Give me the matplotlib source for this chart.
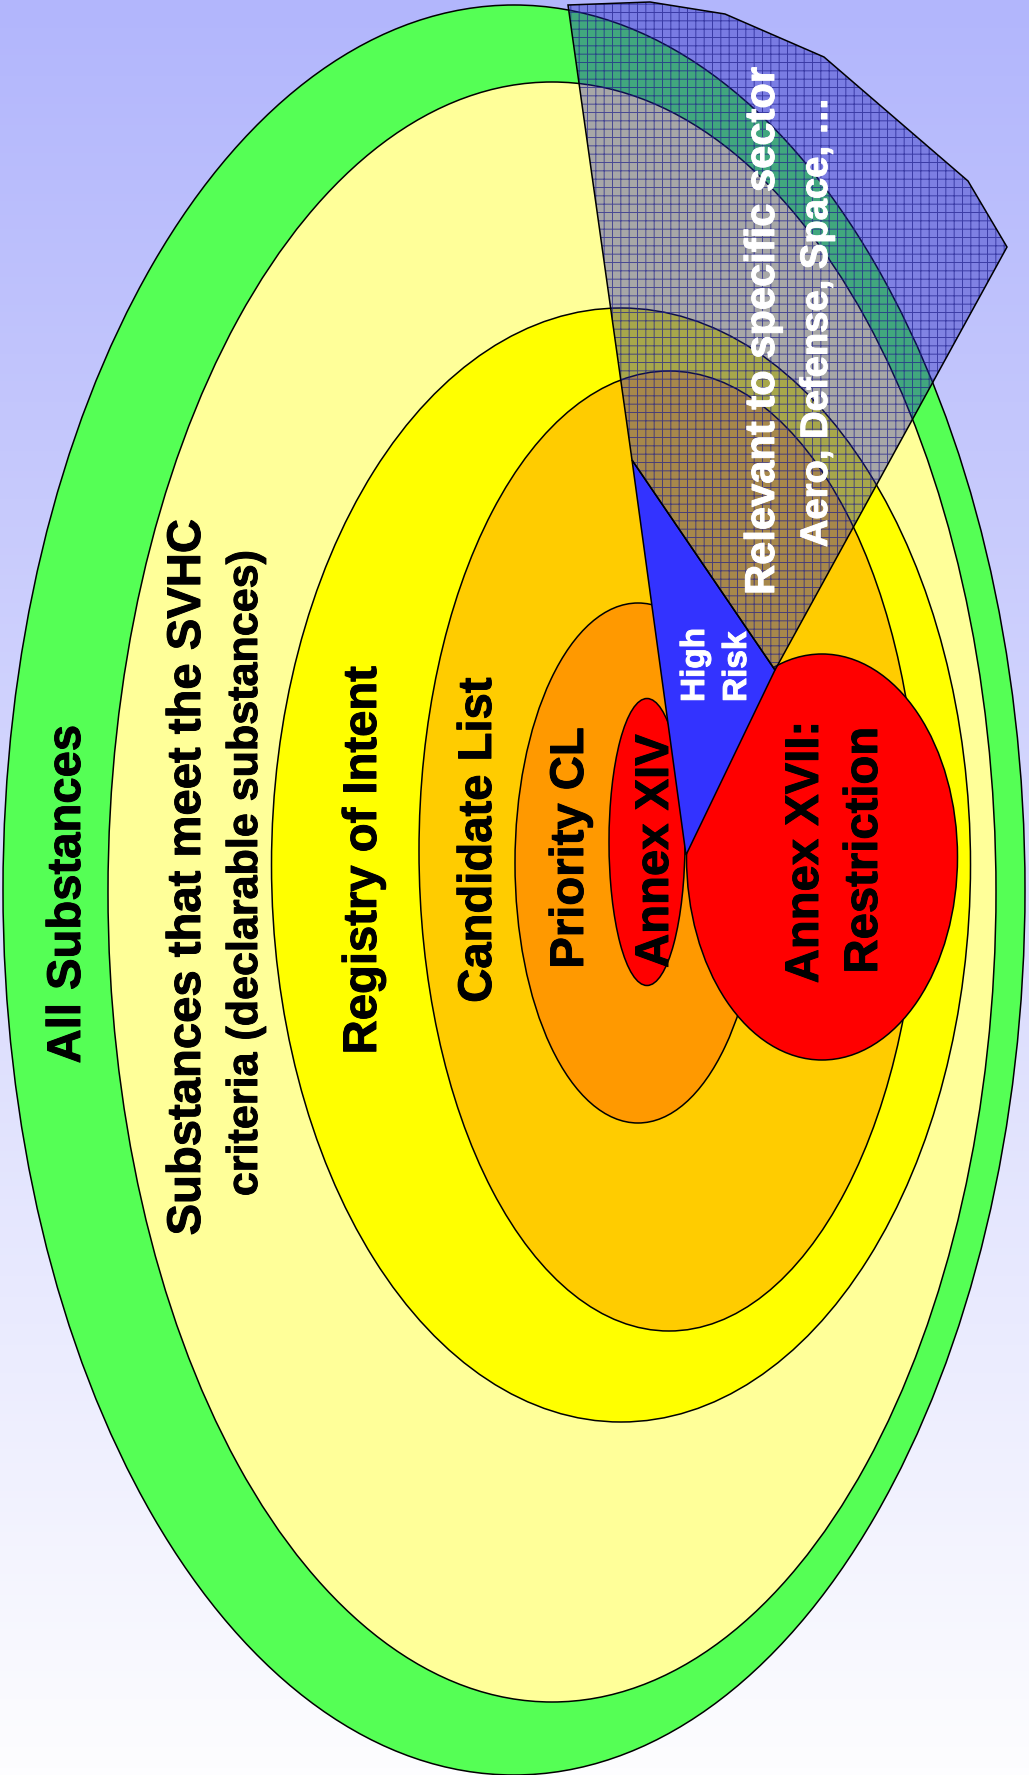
import numpy as np
import matplotlib
matplotlib.use("Agg")
import matplotlib.pyplot as plt
import matplotlib.patheffects as pe
from matplotlib.patches import Ellipse, Polygon
from matplotlib.colors import LinearSegmentedColormap

plt.rcParams['font.family'] = ['Liberation Sans', 'DejaVu Sans']
plt.rcParams['hatch.linewidth'] = 0.7

W, H = 1029, 1775

# ---- data: nested sets (outer -> inner) ----
set_labels = ["All Substances", "Substances that meet the SVHC", "Registry of Intent",
              "Candidate List", "Priority CL", "Annex XIV", "Annex XVII:\nRestriction"]
set_colors = ["#55ff55", "#ffff99", "#ffff00", "#ffcc00", "#ff9900", "#ff0000", "#ff0000"]
# ellipse geometry (pixel space): centre x, centre y, width, height
ell_cx = [514, 552, 621, 669, 638, 647, 822]
ell_cy = [890, 892, 865, 851, 863, 842, 857]
ell_w = [1022, 888, 699, 500, 246, 76, 271]
ell_h = [1770, 1620, 1114, 960, 520, 287, 406]

high_risk_label = ["High", "Risk"]
tri_x = [632, 775, 686]
tri_y = [460, 670, 855]

sector_labels = ["Relevant to specific sector", "Aero, Defense, Space, \u2026"]
sec_x = [568, 650, 725, 824, 968, 1007, 775, 632]
sec_y = [5, 2, 14, 57, 181, 247, 670, 460]

fig = plt.figure(figsize=(W / 100, H / 100), dpi=100)
ax = fig.add_axes([0, 0, 1, 1])
ax.set_xlim(0, W)
ax.set_ylim(H, 0)
ax.axis('off')

# background gradient
cmap = LinearSegmentedColormap.from_list("bg", [(178/255, 182/255, 252/255), (253/255, 253/255, 1.0)])
grad = np.linspace(0, 1, 256).reshape(-1, 1)
ax.imshow(grad, cmap=cmap, extent=[0, W, H, 0], aspect='auto', zorder=0)

# ellipses (big red drawn last)
for i in range(len(set_labels)):
    e = Ellipse((ell_cx[i], ell_cy[i]), ell_w[i], ell_h[i], facecolor=set_colors[i],
                edgecolor='black', linewidth=1.1, zorder=1 + i)
    ax.add_patch(e)

# high-risk triangle
ax.add_patch(Polygon(list(zip(tri_x, tri_y)), closed=True, facecolor='#3333ff',
                     edgecolor='black', linewidth=1.1, zorder=10))

# sector polygon: translucent fill + grid hatch + outline
pts = list(zip(sec_x, sec_y))
ax.add_patch(Polygon(pts, closed=True, facecolor=(35/255, 35/255, 190/255, 0.4),
                     edgecolor='none', zorder=11))
ax.add_patch(Polygon(pts, closed=True, fill=False, hatch='++',
                     edgecolor=(0.12, 0.12, 0.55, 0.7), linewidth=0, zorder=12))
ax.add_patch(Polygon(pts, closed=True, fill=False, edgecolor='black', linewidth=1.1, zorder=13))

def vtext(x, y, s, size, color='black', ha='center'):
    t = ax.text(x, y, s, rotation=90, rotation_mode='anchor', ha=ha, va='baseline',
                fontsize=size, fontweight='bold', color=color, zorder=20)
    t.set_path_effects([pe.Stroke(linewidth=0.7, foreground=color), pe.Normal()])

vtext(80, 894, set_labels[0], 34)
vtext(200, 877, set_labels[1], 34)
vtext(257, 874, "criteria (declarable substances)", 31)
vtext(376, 860, set_labels[2], 34)
vtext(491, 840, set_labels[3], 34)
vtext(583, 848, set_labels[4], 34)
vtext(668, 851, set_labels[5], 34)
l1, l2 = set_labels[6].split("\n")
vtext(818, 852, l1, 34)
vtext(877, 850, l2, 34)
vtext(704, 702, high_risk_label[0], 24, color='white', ha='left')
vtext(746, 702, high_risk_label[1], 24, color='white', ha='left')
vtext(774, 331, sector_labels[0], 30, color='white')
vtext(827, 322, sector_labels[1], 27.5, color='white')

fig.savefig("out.png", dpi=100)
